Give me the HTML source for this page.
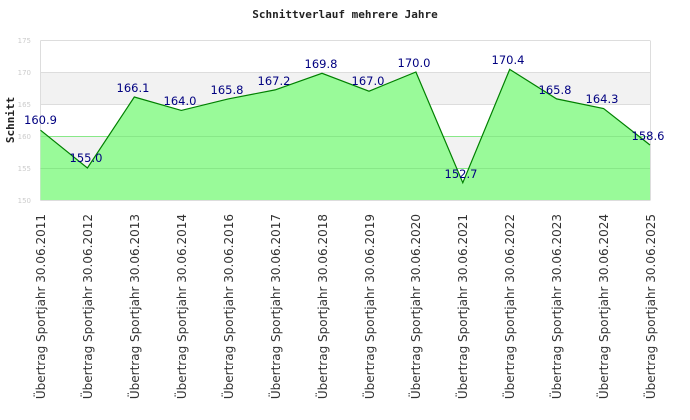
<!DOCTYPE html>
<html><head><meta charset="utf-8"><style>body{margin:0;background:#fff}svg{display:block}</style></head><body>
<svg width="690" height="420" xmlns="http://www.w3.org/2000/svg">
<rect width="690" height="420" fill="#fff"/>
<text x="345" y="18" text-anchor="middle" font-family="DejaVu Sans Mono, monospace" font-weight="bold" font-size="11" fill="#222">Schnittverlauf mehrere Jahre</text>
<rect x="40.5" y="72" width="609.5" height="32" fill="#f2f2f2"/>
<rect x="40.5" y="136" width="609.5" height="32" fill="#f2f2f2"/>
<g stroke="#ddd" stroke-width="1">
<line x1="40.5" y1="40.5" x2="650" y2="40.5"/><line x1="40.5" y1="72.5" x2="650" y2="72.5"/><line x1="40.5" y1="104.5" x2="650" y2="104.5"/><line x1="40.5" y1="136.5" x2="650" y2="136.5"/><line x1="40.5" y1="168.5" x2="650" y2="168.5"/><line x1="40.5" y1="200.5" x2="650" y2="200.5"/>
<line x1="40.5" y1="40.5" x2="40.5" y2="200.5"/><line x1="650.5" y1="40.5" x2="650.5" y2="200.5"/>
</g>
<g font-family="DejaVu Sans, sans-serif" font-size="7" fill="#ccc" text-anchor="end">
<text x="31" y="43">175</text><text x="31" y="75">170</text><text x="31" y="107">165</text><text x="31" y="139">160</text><text x="31" y="171">155</text><text x="31" y="203">150</text>
</g>
<polygon fill="#99fa99" points="40.5,200 40.5,130.2 87.4,168 134.3,97 181.3,110.4 228.2,98.9 275.1,89.9 322,73.3 369,91.2 415.9,72 462.8,182.7 509.7,69.4 556.6,98.9 603.6,108.5 650,145 650,200"/>
<g stroke="#88e888"><line x1="40.5" y1="136.5" x2="650" y2="136.5"/><line x1="40.5" y1="168.5" x2="650" y2="168.5"/></g>
<polyline fill="none" stroke="#008000" stroke-width="1.2" points="40.5,130.2 87.4,168 134.3,97 181.3,110.4 228.2,98.9 275.1,89.9 322,73.3 369,91.2 415.9,72 462.8,182.7 509.7,69.4 556.6,98.9 603.6,108.5 650,145"/>
<g font-family="DejaVu Sans, sans-serif" font-size="11.5" fill="#000080" text-anchor="middle">
<text x="40.5" y="124">160.9</text><text x="86" y="162">155.0</text><text x="133" y="92">166.1</text><text x="180" y="105">164.0</text><text x="227" y="94">165.8</text><text x="274" y="85">167.2</text><text x="321" y="68">169.8</text><text x="368" y="85">167.0</text><text x="414" y="67">170.0</text><text x="461" y="178">152.7</text><text x="508" y="64">170.4</text><text x="555" y="94">165.8</text><text x="602" y="103">164.3</text><text x="648" y="140">158.6</text>
</g>
<text transform="translate(14,120) rotate(-90)" text-anchor="middle" font-family="DejaVu Sans Mono, monospace" font-weight="bold" font-size="11" fill="#222">Schnitt</text>
<g font-family="DejaVu Sans, sans-serif" font-size="12" fill="#333" text-anchor="end">
<text transform="translate(45,214) rotate(-90)">Übertrag Sportjahr 30.06.2011</text>
<text transform="translate(92,214) rotate(-90)">Übertrag Sportjahr 30.06.2012</text>
<text transform="translate(139,214) rotate(-90)">Übertrag Sportjahr 30.06.2013</text>
<text transform="translate(186,214) rotate(-90)">Übertrag Sportjahr 30.06.2014</text>
<text transform="translate(233,214) rotate(-90)">Übertrag Sportjahr 30.06.2016</text>
<text transform="translate(280,214) rotate(-90)">Übertrag Sportjahr 30.06.2017</text>
<text transform="translate(327,214) rotate(-90)">Übertrag Sportjahr 30.06.2018</text>
<text transform="translate(374,214) rotate(-90)">Übertrag Sportjahr 30.06.2019</text>
<text transform="translate(420,214) rotate(-90)">Übertrag Sportjahr 30.06.2020</text>
<text transform="translate(467,214) rotate(-90)">Übertrag Sportjahr 30.06.2021</text>
<text transform="translate(514,214) rotate(-90)">Übertrag Sportjahr 30.06.2022</text>
<text transform="translate(561,214) rotate(-90)">Übertrag Sportjahr 30.06.2023</text>
<text transform="translate(608,214) rotate(-90)">Übertrag Sportjahr 30.06.2024</text>
<text transform="translate(655,214) rotate(-90)">Übertrag Sportjahr 30.06.2025</text>
</g>
</svg>
</body></html>
